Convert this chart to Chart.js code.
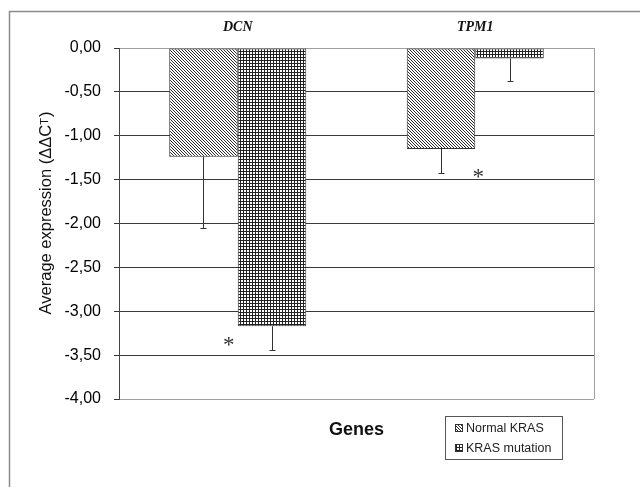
<!DOCTYPE html>
<html>
<head>
<meta charset="utf-8">
<script src="https://cdn.jsdelivr.net/npm/chart.js@4.4.1/dist/chart.umd.min.js"></script>
<style>
  html, body { margin: 0; padding: 0; background: #fff; }
  #wrap { width: 640px; height: 487px; position: relative; }
</style>
</head>
<body>
<div id="wrap"><canvas id="c" width="640" height="487"></canvas></div>
<script>
// ---- data ----
const genes = ['DCN', 'TPM1'];
const seriesNames = ['Normal KRAS', 'KRAS mutation'];
const normalKras = [-1.24, -1.15];
const krasMutation = [-3.17, -0.12];
const errNormal = [0.81, 0.27];
const errMutation = [0.27, 0.26];
const significant = [true, true];
const yTickValues = [0, -0.5, -1, -1.5, -2, -2.5, -3, -3.5, -4];

// ---- patterns ----
function diagPattern() {
  const c = document.createElement('canvas');
  c.width = 3; c.height = 3;
  const g = c.getContext('2d');
  g.fillStyle = '#ffffff'; g.fillRect(0, 0, 3, 3);
  g.fillStyle = '#2a2a2a';
  for (let i = 0; i < 3; i++) g.fillRect(i, i, 1, 1);
  return g.createPattern(c, 'repeat');
}
function gridPattern() {
  const c = document.createElement('canvas');
  c.width = 3; c.height = 3;
  const g = c.getContext('2d');
  g.fillStyle = '#ffffff'; g.fillRect(0, 0, 3, 3);
  g.fillStyle = '#222222';
  g.fillRect(0, 0, 3, 1);
  g.fillRect(0, 0, 1, 3);
  return g.createPattern(c, 'repeat');
}
const fillNormal = diagPattern();
const fillMutation = gridPattern();
const errSets = [errNormal, errMutation];

const decor = {
  id: 'decor',
  beforeDraw(chart) {
    const ctx = chart.ctx;
    ctx.save();
    ctx.fillStyle = '#ffffff';
    ctx.fillRect(0, 0, chart.width, chart.height);
    ctx.strokeStyle = '#8a8a8a';
    ctx.lineWidth = 1.5;
    ctx.beginPath();
    ctx.moveTo(9.5, chart.height + 5);
    ctx.lineTo(9.5, 11.5);
    ctx.lineTo(chart.width + 5, 11.5);
    ctx.stroke();
    ctx.restore();
  },
  afterDatasetsDraw(chart, args, opts) {
    const ctx = chart.ctx;
    const y = chart.scales.y;
    const x = chart.scales.x;
    ctx.save();
    ctx.strokeStyle = '#333333';
    ctx.lineWidth = 1;
    chart.data.datasets.forEach((ds, di) => {
      const meta = chart.getDatasetMeta(di);
      meta.data.forEach((el, i) => {
        const v = ds.data[i];
        const e = errSets[di][i];
        const px = Math.round(el.x) + 0.5;
        const y0 = y.getPixelForValue(v);
        const y1 = Math.round(y.getPixelForValue(v - e)) + 0.5;
        ctx.beginPath();
        ctx.moveTo(px, y0);
        ctx.lineTo(px, y1);
        ctx.moveTo(px - 3, y1);
        ctx.lineTo(px + 3, y1);
        ctx.stroke();
      });
    });
    // significance asterisks
    ctx.fillStyle = '#333333';
    ctx.font = '23px "Liberation Serif"';
    ctx.textAlign = 'center';
    ctx.textBaseline = 'middle';
    significant.forEach((s, i) => {
      if (!s) return;
      const ends = chart.data.datasets.map((ds, di) => ds.data[i] - errSets[di][i]);
      const low = Math.min(...ends);
      const off = opts.offsets[i];
      const cx = x.getPixelForValue(i) + off[0];
      const cy = y.getPixelForValue(low) + off[1];
      ctx.fillText('*', cx, cy + 5);
    });
    ctx.restore();
  },
  afterDraw(chart) {
    const ctx = chart.ctx;
    const a = chart.chartArea;
    ctx.save();
    // plot area right border
    ctx.strokeStyle = '#a0a0a0';
    ctx.lineWidth = 1;
    ctx.beginPath();
    ctx.moveTo(Math.round(a.right) + 0.5, a.top);
    ctx.lineTo(Math.round(a.right) + 0.5, a.bottom);
    ctx.stroke();

    // y axis title
    ctx.save();
    ctx.translate(46, 213);
    ctx.rotate(-Math.PI / 2);
    ctx.fillStyle = '#111111';
    ctx.textBaseline = 'middle';
    const main = 'Average expression (ΔΔC';
    const big = '16.5px "Liberation Sans"';
    const small = '11px "Liberation Sans"';
    ctx.font = big;
    const w1 = ctx.measureText(main).width;
    const wP = ctx.measureText(')').width;
    ctx.font = small;
    const wT = ctx.measureText('T').width;
    const total = w1 + wT + wP + 1;
    let sx = -total / 2;
    ctx.textAlign = 'left';
    ctx.font = big;
    ctx.fillText(main, sx, 0);
    sx += w1;
    ctx.font = small;
    ctx.fillText('T', sx, -1);
    sx += wT + 1;
    ctx.font = big;
    ctx.fillText(')', sx, 0);
    ctx.restore();

    // x axis title
    ctx.fillStyle = '#111111';
    ctx.font = 'bold 18px "Liberation Sans"';
    ctx.textAlign = 'center';
    ctx.textBaseline = 'middle';
    ctx.fillText('Genes', (a.left + a.right) / 2, 430);

    // legend
    ctx.strokeStyle = '#555555';
    ctx.lineWidth = 1;
    ctx.strokeRect(445.5, 416.5, 117, 43);
    const fills = [fillNormal, fillMutation];
    ctx.font = '12.5px "Liberation Sans"';
    ctx.textAlign = 'left';
    ctx.fillStyle = '#222222';
    seriesNames.forEach((n, i) => {
      const cy = 428 + i * 20;
      ctx.fillStyle = fills[i];
      ctx.fillRect(455, cy - 4, 8, 8);
      ctx.strokeStyle = '#333333';
      ctx.strokeRect(455.5, cy - 3.5, 7, 7);
      ctx.fillStyle = '#222222';
      ctx.fillText(n, 466, cy + 1);
    });
    ctx.restore();
  }
};

const lineFor = (ctx) => {
  const v = ctx.tick && ctx.tick.value;
  return (v === 0 || v === -4) ? '#a0a0a0' : '#3a3a3a';
};

new Chart(document.getElementById('c'), {
  type: 'bar',
  data: {
    labels: genes,
    datasets: [
      { label: seriesNames[0], data: normalKras, backgroundColor: fillNormal,
        borderColor: '#333333', borderWidth: 1, borderSkipped: false },
      { label: seriesNames[1], data: krasMutation, backgroundColor: fillMutation,
        borderColor: '#333333', borderWidth: 1, borderSkipped: false }
    ]
  },
  options: {
    responsive: false,
    animation: false,
    devicePixelRatio: 1,
    layout: { padding: { left: 9, top: 0, right: 46, bottom: 88 } },
    datasets: { bar: { categoryPercentage: 0.577, barPercentage: 1.0 } },
    plugins: {
      legend: { display: false },
      tooltip: { enabled: false },
      decor: { offsets: [[-9, -9], [3, 0]] }
    },
    scales: {
      x: {
        position: 'top',
        grid: { display: false, drawTicks: false },
        border: { display: false },
        ticks: {
          color: '#111111',
          padding: 12,
          font: { family: '"Liberation Serif"', size: 14, style: 'italic', weight: 'bold' }
        },
        afterFit(s) { s.height = 48; }
      },
      y: {
        min: -4, max: 0,
        afterBuildTicks(s) { s.ticks = yTickValues.map(v => ({ value: v })); },
        grid: { color: lineFor, tickColor: '#333333', tickLength: 5, lineWidth: 1 },
        border: { display: true, color: '#444444', width: 1 },
        ticks: {
          color: '#000000',
          padding: 13,
          font: { family: '"Liberation Sans"', size: 16 },
          callback: (v) => (v === 0 ? 0 : v).toFixed(2).replace('.', ',')
        },
        afterFit(s) { s.width = 110; }
      }
    }
  },
  plugins: [decor]
});
</script>
</body>
</html>
